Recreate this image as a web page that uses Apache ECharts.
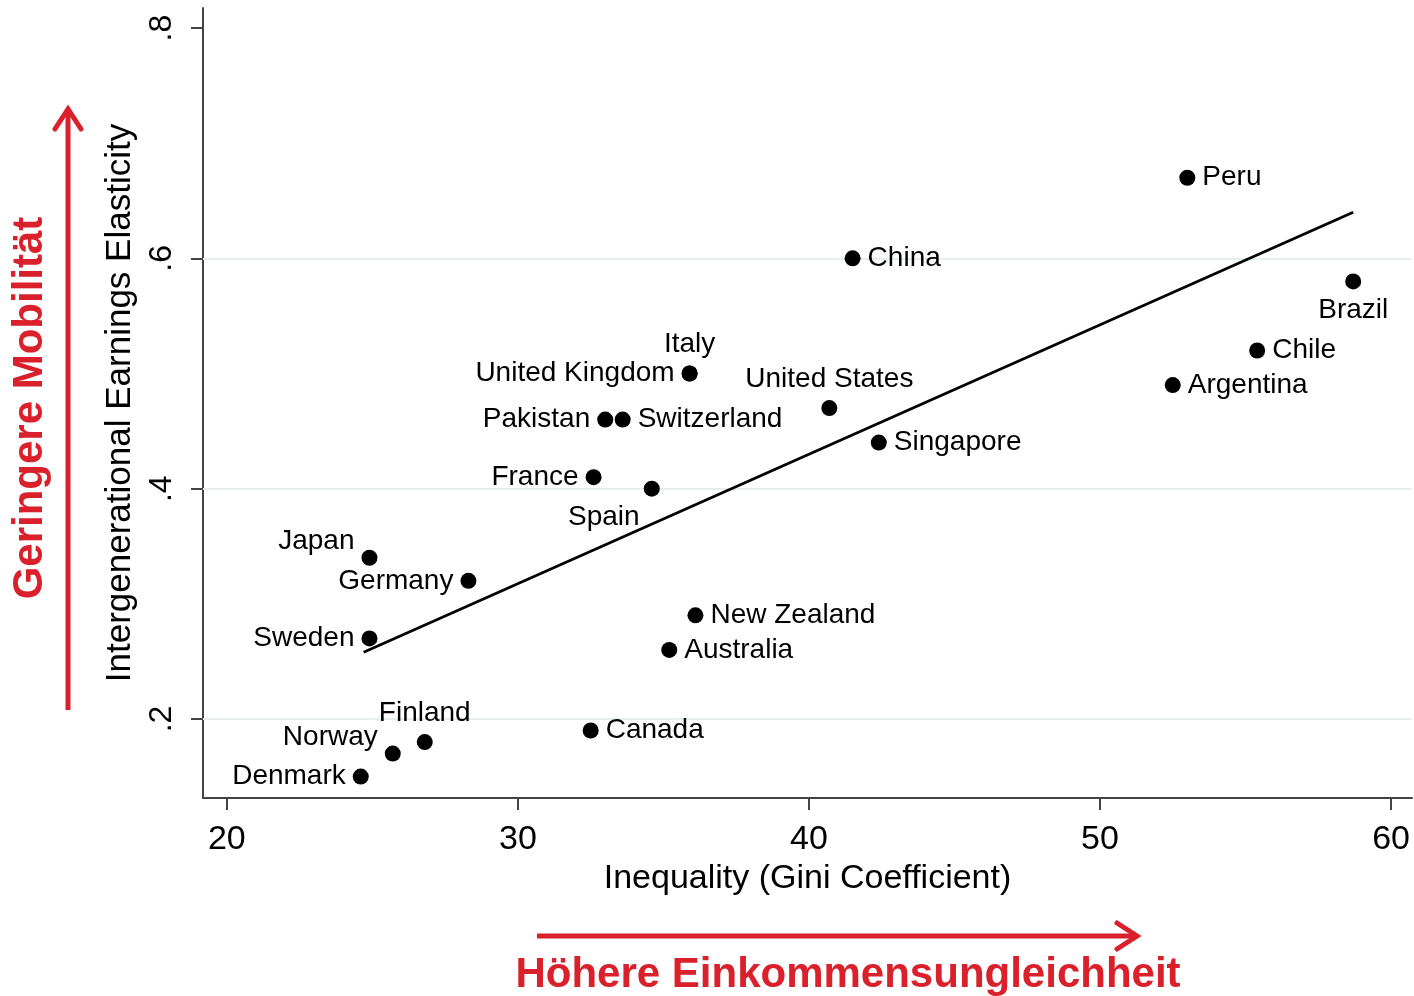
<!DOCTYPE html>
<html>
<head>
<meta charset="utf-8">
<script src="https://cdn.jsdelivr.net/npm/echarts@6/dist/echarts.min.js"></script>
<style>
  html, body { margin: 0; padding: 0; background: #fff; }
  #chart { width: 1414px; height: 996px; }
</style>
</head>
<body>
<div id="chart"></div>
<script>
// Länder mit Gini-Koeffizient (x) und Einkommenselastizität (y)
var countries = ['Peru', 'China', 'Brazil', 'Chile', 'Argentina', 'Italy', 'United Kingdom',
  'United States', 'Pakistan', 'Switzerland', 'Singapore', 'France', 'Spain', 'Japan',
  'Germany', 'Sweden', 'New Zealand', 'Australia', 'Canada', 'Finland', 'Norway', 'Denmark'];
var gini = [53.0, 41.5, 58.7, 55.4, 52.5, 35.9, 35.9,
  40.7, 33.0, 33.6, 42.4, 32.6, 34.6, 24.9,
  28.3, 24.9, 36.1, 35.2, 32.5, 26.8, 25.7, 24.6];
var elasticity = [0.67, 0.60, 0.58, 0.52, 0.49, 0.50, 0.50,
  0.47, 0.46, 0.46, 0.44, 0.41, 0.40, 0.34,
  0.32, 0.27, 0.29, 0.26, 0.19, 0.18, 0.17, 0.15];
// Lage der Beschriftung je Land
var labelPos = ['right', 'right', 'bottom', 'right', 'right', 'top', 'left',
  'top', 'left', 'right', 'right', 'left', 'bottom', 'left',
  'left', 'left', 'right', 'right', 'right', 'top', 'left', 'left'];

var fitX = [24.7, 58.7];
var fitY = [0.258, 0.640];

var xTicks = [20, 30, 40, 50, 60];
var yTicks = [0.2, 0.4, 0.6, 0.8];
var gridY = [0.2, 0.4, 0.6];

var font = "'Liberation Sans', Arial, sans-serif";
var red = '#d9202b';

var points = countries.map(function (c, i) {
  var lab = { position: labelPos[i] };
  if (c === 'Japan' || c === 'Norway') lab.offset = [0, -16];
  if (c === 'Spain') lab.offset = [-48, 0];
  return { name: c, value: [gini[i], elasticity[i]], label: lab };
});

var chart = echarts.init(document.getElementById('chart'));
var option = {
  animation: false,
  grid: { left: 203, right: 2, top: 8, bottom: 198, containLabel: false },
  xAxis: {
    type: 'value',
    min: 19.18,
    max: 60.72,
    name: 'Inequality (Gini Coefficient)',
    nameLocation: 'middle',
    nameGap: 53,
    nameTextStyle: { fontFamily: font, fontSize: 34, color: '#000' },
    axisLine: { show: true, onZero: false, lineStyle: { color: '#444', width: 2 } },
    axisTick: { show: true, length: 12, lineStyle: { color: '#444', width: 2 }, customValues: xTicks },
    axisLabel: { fontFamily: font, fontSize: 34, color: '#000', margin: 25, customValues: xTicks },
    splitLine: { show: false }
  },
  yAxis: {
    type: 'value',
    min: 0.1314,
    max: 0.8174,
    name: 'Intergenerational Earnings Elasticity',
    nameLocation: 'middle',
    nameGap: 51,
    nameTextStyle: { fontFamily: font, fontSize: 35, color: '#000' },
    axisLine: { show: true, onZero: false, lineStyle: { color: '#444', width: 2 } },
    axisTick: { show: true, length: 12, lineStyle: { color: '#444', width: 2 }, customValues: yTicks },
    axisLabel: {
      fontFamily: font, fontSize: 32, color: '#000', rotate: 90, margin: 25,
      customValues: yTicks,
      formatter: function (v) { return v.toFixed(1).replace('0.', '.'); }
    },
    splitLine: { show: false }
  },
  series: [
    {
      type: 'line',
      data: fitX.map(function (x, i) { return [x, fitY[i]]; }),
      symbol: 'none',
      lineStyle: { color: '#000', width: 2.8 },
      silent: true,
      z: 3,
      markLine: {
        silent: true,
        symbol: 'none',
        label: { show: false },
        lineStyle: { color: '#e6eef0', width: 2, type: 'solid' },
        data: gridY.map(function (y) { return { yAxis: y }; }),
        z: 1
      }
    },
    {
      type: 'scatter',
      data: points,
      symbolSize: 16,
      itemStyle: { color: '#000', opacity: 1 },
      z: 4,
      label: {
        show: true,
        formatter: '{b}',
        fontFamily: font,
        fontSize: 28,
        color: '#000',
        distance: 7
      }
    }
  ],
  graphic: [
    // Pfeil nach oben
    { type: 'line', shape: { x1: 68, y1: 710, x2: 68, y2: 110 }, style: { stroke: red, lineWidth: 5 } },
    { type: 'polyline', shape: { points: [[55, 129], [68, 109], [81, 129]] }, style: { stroke: red, lineWidth: 5, fill: null, lineCap: 'round', lineJoin: 'miter' } },
    {
      type: 'text', x: 30, y: 408, rotation: Math.PI / 2,
      style: { text: 'Geringere Mobilität', font: 'bold 42px ' + font, fill: red, textAlign: 'center', textVerticalAlign: 'middle' }
    },
    // Pfeil nach rechts
    { type: 'line', shape: { x1: 537, y1: 936, x2: 1136, y2: 936 }, style: { stroke: red, lineWidth: 5 } },
    { type: 'polyline', shape: { points: [[1117, 923], [1137, 936], [1117, 949]] }, style: { stroke: red, lineWidth: 5, fill: null, lineCap: 'round' } },
    {
      type: 'text', x: 848, y: 975,
      style: { text: 'Höhere Einkommensungleichheit', font: 'bold 42px ' + font, fill: red, textAlign: 'center', textVerticalAlign: 'middle' }
    }
  ]
};
chart.setOption(option);
</script>
</body>
</html>
